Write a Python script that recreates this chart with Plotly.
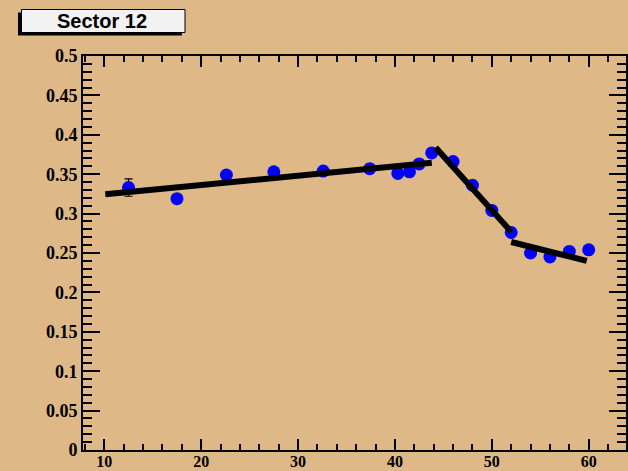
import plotly.graph_objects as go

# Data points
x_pts = [12.5, 17.5, 22.6, 27.5, 32.6, 37.4, 40.3, 41.5, 42.5, 43.8, 46.0, 48.0, 50.0, 52.0, 54.0, 56.0, 58.0, 60.0]
y_pts = [0.333, 0.319, 0.349, 0.353, 0.354, 0.357, 0.351, 0.353, 0.363, 0.377, 0.366, 0.336, 0.304, 0.276, 0.250, 0.245, 0.252, 0.254]
y_err = [0.011, 0.005, 0.005, 0.005, 0.005, 0.005, 0.005, 0.005, 0.005, 0.005, 0.005, 0.005, 0.005, 0.005, 0.005, 0.005, 0.005, 0.005]

# Piecewise fit segments
fit1_x = [10.1, 43.8]
fit1_y = [0.3245, 0.3646]
fit2_x = [44.2, 52.0]
fit2_y = [0.384, 0.277]
fit3_x = [52.0, 59.8]
fit3_y = [0.264, 0.240]

title_text = "Sector 12"

BG = "#DEB887"

fig = go.Figure()
fig.add_trace(go.Scatter(
    x=x_pts, y=y_pts, mode="markers",
    marker=dict(color="#0000FF", size=13, line=dict(width=0)),
    error_y=dict(type="data", array=y_err, color="black", thickness=1.2, width=4),
    showlegend=False, hoverinfo="skip"))
for fx, fy in [(fit1_x, fit1_y), (fit2_x, fit2_y), (fit3_x, fit3_y)]:
    fig.add_trace(go.Scatter(x=fx, y=fy, mode="lines",
                             line=dict(color="black", width=6),
                             showlegend=False, hoverinfo="skip"))

L, R, T, B = 83, 2, 56, 21
W, H = 628, 471
pw = W - L - R
ph = H - T - B

def px_x(p):
    return (p - L) / pw

def px_y(p):
    return (H - B - p) / ph

ytickfont = dict(family="Liberation Serif", size=18, color="black", weight="bold")
xtickfont = dict(family="Liberation Serif", size=16, color="black", weight="bold")

fig.update_layout(
    width=W, height=H,
    margin=dict(l=L, r=R, t=T, b=B, autoexpand=False),
    paper_bgcolor=BG, plot_bgcolor=BG,
    xaxis=dict(range=[7.8, 63.85], tickmode="linear", tick0=10, dtick=10,
               ticks="inside", ticklen=11, tickwidth=1.5, tickcolor="black",
               minor=dict(dtick=2, tick0=10, ticks="inside", ticklen=6, tickwidth=1.5, tickcolor="black", showgrid=False),
               showline=True, linecolor="black", linewidth=2, mirror="allticks",
               showgrid=False, zeroline=False, tickfont=xtickfont, ticklabelstandoff=-4,
               automargin=False),
    yaxis=dict(range=[0, 0.5], tickmode="linear", tick0=0, dtick=0.05,
               ticks="inside", ticklen=17, tickwidth=1.5, tickcolor="black",
               minor=dict(dtick=0.01, tick0=0, ticks="inside", ticklen=9, tickwidth=1.5, tickcolor="black", showgrid=False),
               showline=True, linecolor="black", linewidth=2, mirror="allticks",
               showgrid=False, zeroline=False, tickfont=ytickfont, ticklabelstandoff=0,
               automargin=False),
    shapes=[
        dict(type="rect", xref="paper", yref="paper",
             x0=px_x(18), x1=px_x(182), y0=px_y(35.5), y1=px_y(12.5),
             fillcolor="black", line=dict(width=0), layer="above"),
        dict(type="rect", xref="paper", yref="paper",
             x0=px_x(21.5), x1=px_x(185), y0=px_y(32.5), y1=px_y(9.5),
             fillcolor="#F2F2F2", line=dict(color="black", width=1), layer="above"),
    ],
    annotations=[dict(text=title_text, xref="paper", yref="paper",
                      x=px_x(102), y=px_y(21), xanchor="center", yanchor="middle",
                      showarrow=False,
                      font=dict(family="Liberation Sans", size=20, color="black", weight="bold"))],
)

fig.write_html("out.html")
